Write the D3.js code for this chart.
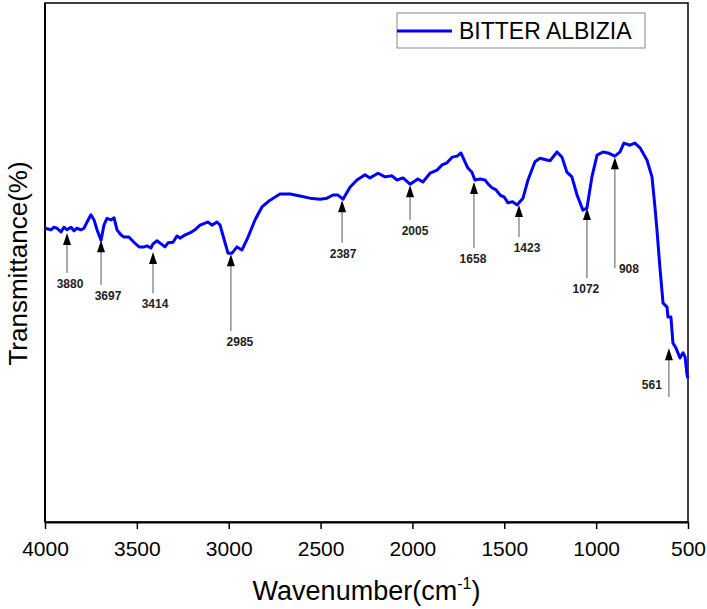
<!DOCTYPE html>
<html>
<head>
<meta charset="utf-8">
<script src="https://cdn.jsdelivr.net/npm/d3@7/dist/d3.min.js"></script>
<style>
  body { margin: 0; background: #fff; }
  text { font-family: Arial, "Liberation Sans", sans-serif; }
</style>
</head>
<body>
<div id="chart"></div>
<script>
// FTIR spectrum
var wavenumber = [4000, 3989, 3967, 3951, 3935, 3913, 3897, 3880, 3858, 3842, 3826, 3804, 3788, 3771,
  3750, 3733, 3717, 3695, 3679, 3663, 3641, 3624, 3608, 3586, 3570, 3543, 3516, 3488, 3461, 3445,
  3423, 3412, 3390, 3368, 3347, 3330, 3303, 3282, 3265, 3238, 3211, 3184, 3156, 3129, 3113, 3091,
  3064, 3047, 3020, 3004, 2982, 2955, 2928, 2895, 2857, 2819, 2775, 2721, 2666, 2612, 2558, 2503,
  2465, 2432, 2405, 2378, 2340, 2302, 2258, 2231, 2187, 2149, 2111, 2084, 2051, 2013, 1970, 1943,
  1904, 1866, 1839, 1812, 1784, 1757, 1736, 1714, 1698, 1676, 1660, 1632, 1605, 1585, 1567, 1545,
  1523, 1500, 1480, 1455, 1431, 1398, 1371, 1333, 1306, 1251, 1213, 1186, 1159, 1132, 1104, 1072,
  1050, 1023, 995, 963, 936, 898, 870, 849, 816, 789, 761, 723, 696, 680, 669, 653, 636, 614, 609,
  593, 582, 565, 544, 527, 516, 505, 500];
var transmittance = [56.6, 56.5, 56.3, 56.8, 56.6, 55.9, 56.8, 56.3, 56.8, 56.1, 56.6, 56.3, 56.6, 57.8,
  59.2, 58.2, 56.3, 54.3, 57.2, 58.5, 58.2, 58.6, 56.3, 55.3, 54.9, 54.9, 53.9, 53.0, 53.0, 53.2,
  52.8, 53.6, 54.2, 53.6, 53.0, 53.8, 53.9, 55.1, 54.7, 55.3, 55.7, 56.3, 57.2, 57.6, 57.8, 57.2,
  57.8, 57.2, 53.8, 51.8, 51.8, 53.0, 52.4, 54.9, 58.2, 60.7, 62.0, 63.2, 63.2, 62.8, 62.4, 62.2,
  62.4, 63.0, 63.0, 62.2, 64.5, 65.9, 66.9, 66.3, 67.2, 66.5, 66.7, 65.9, 66.3, 65.1, 66.1, 65.5,
  67.2, 67.8, 68.8, 69.2, 70.3, 70.5, 71.1, 69.4, 68.2, 67.4, 65.9, 66.1, 65.9, 65.0, 64.4, 64.0,
  63.0, 62.6, 61.5, 61.7, 61.1, 62.4, 65.9, 69.4, 70.1, 69.6, 71.3, 70.3, 67.4, 66.5, 63.0, 60.1,
  60.5, 66.5, 70.7, 71.3, 71.1, 70.5, 71.3, 73.0, 72.6, 73.0, 72.1, 69.7, 66.5, 60.7, 56.3, 49.1, 42.2, 41.4, 39.5,
  39.5, 34.5, 33.5, 31.6, 32.6, 31.8, 28.3, 27.7];

var seriesName = "BITTER ALBIZIA";
var xTicks = [4000, 3500, 3000, 2500, 2000, 1500, 1000, 500];

// peak annotations
var peakLabels = ["3880", "3697", "3414", "2985", "2387", "2005", "1658", "1423", "1072", "908", "561"];
var peakWn     = [3880, 3695, 3412, 2988, 2383, 2013, 1665, 1420, 1050, 898, 604];
var tipT       = [55.7, 54.3, 52.0, 51.6, 62.0, 64.9, 65.5, 61.1, 60.5, 70.3, 33.5];
var tailT      = [48.0, 45.7, 44.1, 36.8, 53.8, 58.2, 52.8, 54.9, 47.0, 48.9, 24.1];
var labelSide  = ["below", "below", "below", "below", "below", "below", "below", "below", "below", "right", "left"];
var labelShift = [3, 7, 2, 9, 1, 5, -1, 8, -1, 0, 0];

function init() {
  var w = 707, h = 609;
  var left = 45, right = 688, top = 3, bottom = 522;

  var svg = d3.select("#chart").append("svg")
    .attr("width", w)
    .attr("height", h);

  var x = d3.scaleLinear().domain([4000, 500]).range([left, right]);
  var y = d3.scaleLinear().domain([0, 100]).range([bottom, top]);

  // frame
  svg.append("rect")
    .attr("x", left).attr("y", top)
    .attr("width", right - left).attr("height", bottom - top)
    .attr("fill", "none").attr("stroke", "#000").attr("stroke-width", 1.5);

  var xAxis = d3.axisBottom(x).tickValues(xTicks).tickSize(7).tickSizeOuter(0)
    .tickFormat(d3.format("d"));
  var gx = svg.append("g").attr("transform", "translate(0," + bottom + ")").call(xAxis);
  gx.select(".domain").attr("stroke-width", 2);
  gx.selectAll(".tick line").attr("stroke-width", 1.5);
  gx.selectAll(".tick text")
    .attr("font-size", 21)
    .attr("font-family", "Arial, 'Liberation Sans', sans-serif")
    .attr("fill", "#000")
    .attr("dy", "1.12em");

  svg.append("line")
    .attr("x1", left).attr("x2", left)
    .attr("y1", top).attr("y2", bottom)
    .attr("stroke", "#000").attr("stroke-width", 2);

  // axis titles
  var xt = svg.append("text")
    .attr("x", (left + right) / 2)
    .attr("y", 600)
    .attr("text-anchor", "middle")
    .attr("font-size", 27)
    .text("Wavenumber(cm");
  xt.append("tspan").attr("dy", -11).attr("font-size", 16).text("-1");
  xt.append("tspan").attr("dy", 11).text(")");

  svg.append("text")
    .attr("transform", "translate(27," + ((top + bottom) / 2 + 1) + ") rotate(-90)")
    .attr("text-anchor", "middle")
    .attr("font-size", 26)
    .text("Transmittance(%)");

  // spectrum
  var pts = wavenumber.map(function(d, i) { return [d, transmittance[i]]; });
  var line = d3.line()
    .x(function(d) { return x(d[0]); })
    .y(function(d) { return y(d[1]); });

  svg.append("path")
    .datum(pts)
    .attr("d", line)
    .attr("fill", "none")
    .attr("stroke", "#0000ff")
    .attr("stroke-width", 3)
    .attr("stroke-linejoin", "round");

  // peak arrows
  var ann = svg.append("g");
  peakLabels.forEach(function(lab, i) {
    var px = x(peakWn[i]);
    var ty = y(tipT[i]);
    var by = y(tailT[i]);
    ann.append("line")
      .attr("x1", px).attr("x2", px)
      .attr("y1", ty + 10).attr("y2", by)
      .attr("stroke", "#555").attr("stroke-width", 1);
    ann.append("path")
      .attr("d", "M" + px + "," + ty + "L" + (px - 4) + "," + (ty + 12) + "L" + (px + 4) + "," + (ty + 12) + "Z")
      .attr("fill", "#000");
    var t = ann.append("text")
      .attr("font-size", 12)
      .attr("font-weight", "bold")
      .attr("fill", "#222")
      .attr("dominant-baseline", "central")
      .text(lab);
    if (labelSide[i] == "below") {
      t.attr("x", px + labelShift[i]).attr("y", by + 11).attr("text-anchor", "middle");
    } else if (labelSide[i] == "right") {
      t.attr("x", px + 4).attr("y", by + 1).attr("text-anchor", "start");
    } else {
      t.attr("x", px - 7).attr("y", by - 12).attr("text-anchor", "end");
    }
  });

  // legend
  var lg = svg.append("g");
  lg.append("rect")
    .attr("x", 397).attr("y", 13)
    .attr("width", 248).attr("height", 35)
    .attr("fill", "#fff").attr("stroke", "#888").attr("stroke-width", 1);
  lg.append("line")
    .attr("x1", 397).attr("x2", 452)
    .attr("y1", 31).attr("y2", 31)
    .attr("stroke", "#0000ff").attr("stroke-width", 3);
  lg.append("text")
    .attr("x", 459).attr("y", 39)
    .attr("font-size", 23)
    .text(seriesName);
}

window.onload = init;
</script>
</body>
</html>
